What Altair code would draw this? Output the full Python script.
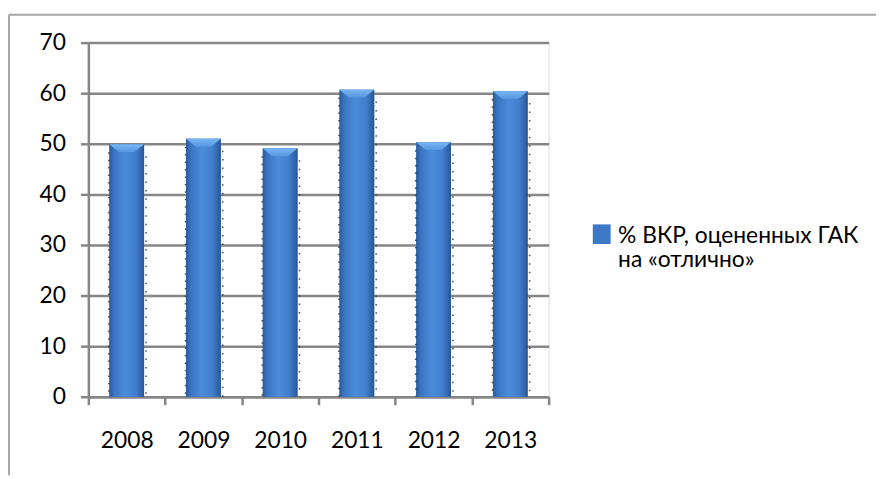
import json
import altair as alt
import pandas as pd

years = ["2008", "2009", "2010", "2011", "2012", "2013"]
values = [49.9, 51.0, 49.1, 60.7, 50.3, 60.4]
series_name = "% ВКР, оцененных ГАК на «отлично»"
legend_lines = ["% ВКР, оцененных ГАК", "на «отлично»"]
y_ticks = [0, 10, 20, 30, 40, 50, 60, 70]

df = pd.DataFrame({"year": years, "value": values, "series": [series_name] * len(years)})

W, H = 464, 357
FONT = "Lato"
AX = "#868686"
BAR_W = 35

x_enc = alt.X(
    "year:N", sort=years,
    scale=alt.Scale(paddingInner=0, paddingOuter=0),
    axis=alt.Axis(title=None, labelAngle=0, labelFont=FONT, labelFontSize=23, labelColor="#000000",
                  labelPadding=25, tickBand="extent", tickSize=8, tickColor=AX, tickWidth=2.5,
                  domainColor=AX, domainWidth=2.5, grid=False),
)
y_enc = alt.Y(
    "value:Q",
    scale=alt.Scale(domain=[0, 70], nice=False),
    axis=alt.Axis(title=None, values=y_ticks, labelFont=FONT, labelFontSize=23, labelColor="#000000",
                  labelPadding=15, tickSize=8, tickColor=AX, tickWidth=2.5, domainColor=AX,
                  domainWidth=2.5, grid=True, gridColor=AX, gridWidth=2.5),
)

label_expr = "[" + ", ".join(json.dumps(s, ensure_ascii=False) for s in legend_lines) + "]"
sym_path = "M-1,-1.25L1,-1.25L1,0.95L-1,0.95Z"

base = alt.Chart(df)

legend_bars = base.mark_bar(size=BAR_W).encode(
    x=x_enc, y=y_enc,
    color=alt.Color("series:N", scale=alt.Scale(range=["#3d78c6"]),
                    legend=alt.Legend(title=None, orient="none", legendX=506, legendY=183,
                                      symbolType=sym_path, symbolSize=324, symbolStrokeWidth=0,
                                      labelFont=FONT, labelFontSize=23, labelColor="#000000",
                                      labelExpr=label_expr, labelOffset=5, labelLimit=400)),
)

grad = alt.LinearGradient(
    gradient="linear", x1=0, x2=1, y1=0, y2=0,
    stops=[
        alt.GradientStop(offset=0, color="#2b5b9c"),
        alt.GradientStop(offset=0.14, color="#3b75c2"),
        alt.GradientStop(offset=0.45, color="#4b8cda"),
        alt.GradientStop(offset=0.75, color="#417fce"),
        alt.GradientStop(offset=0.9, color="#3368b0"),
        alt.GradientStop(offset=1, color="#28558f"),
    ],
)
grad_bars = base.mark_bar(size=BAR_W, color=grad).encode(x="year:N", y="value:Q")

cap_grad = alt.LinearGradient(
    gradient="linear", x1=0, x2=0, y1=0, y2=1,
    stops=[alt.GradientStop(offset=0, color="#79b6f4"), alt.GradientStop(offset=1, color="#5797e0")],
)
caps = base.mark_point(shape="M-1,0L1,0L0.45,0.45L-0.45,0.45Z", size=BAR_W * BAR_W, filled=True,
                       color=cap_grad, opacity=1, strokeWidth=0).encode(x="year:N", y="value:Q")

dots_l = base.mark_rule(xOffset=-18, yOffset=8, strokeDash=[1.5, 6], strokeWidth=1.5, color="#222222",
                        opacity=0.8).encode(x="year:N", y="value:Q", y2=alt.datum(0))
dots_r = base.mark_rule(xOffset=19.5, yOffset=12, strokeDash=[1.5, 7], strokeWidth=1.5, color="#222222",
                        opacity=0.8).encode(x="year:N", y="value:Q", y2=alt.datum(0))

frame_df = pd.DataFrame({"k": [0]})
frame_top = alt.Chart(frame_df).mark_rule(color="#a6a6a6", strokeWidth=2).encode(
    x=alt.value(-80), x2=alt.value(794), y=alt.value(-28))
frame_left = alt.Chart(frame_df).mark_rule(color="#a6a6a6", strokeWidth=2).encode(
    x=alt.value(-80), y=alt.value(-28), y2=alt.value(436))

chart = alt.layer(frame_top, frame_left, legend_bars, grad_bars, caps, dots_l, dots_r).properties(
    width=W, height=H, padding={"left": 0, "top": 4, "right": 0, "bottom": 0},
).configure_view(strokeWidth=0).configure(background="#ffffff")

chart.save("out.html", embed_options={"renderer": "svg", "actions": False})
